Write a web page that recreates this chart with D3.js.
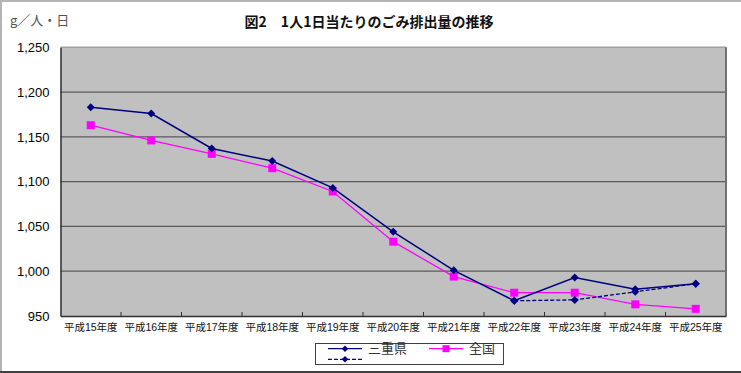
<!DOCTYPE html>
<html>
<head>
<meta charset="utf-8">
<script src="https://cdn.jsdelivr.net/npm/d3@7"></script>
<style>
  body { margin: 0; background: #fff; }
  svg text { font-family: "Liberation Sans", "Noto Sans CJK JP", sans-serif; }
  .jp { font-family: "Noto Sans CJK JP", sans-serif; }
</style>
</head>
<body>
<div id="chart"></div>
<script>
// data
var years = ["平成15年度", "平成16年度", "平成17年度", "平成18年度", "平成19年度", "平成20年度",
             "平成21年度", "平成22年度", "平成23年度", "平成24年度", "平成25年度"];
var mie = [1183, 1176, 1137, 1123, 1093, 1044, 1001, 967, 993, 980, 986];
var mieDashed = [null, null, null, null, null, null, null, 967, 968, 977, 986];
var zenkoku = [1163, 1146, 1131, 1115, 1089, 1033, 994, 976, 976, 963, 958];
var yTicks = [950, 1000, 1050, 1100, 1150, 1200, 1250];

var width = 741, height = 373;
var plot = { left: 60.5, right: 726, top: 47.3, bottom: 316 };

var svg = d3.select("#chart")
    .append("svg")
    .attr("width", width)
    .attr("height", height);

// outer frame of the picture
svg.append("rect").attr("x", 0).attr("y", 0).attr("width", width).attr("height", 2).attr("fill", "#b4b4b4");
svg.append("rect").attr("x", 0).attr("y", 0).attr("width", 2).attr("height", height).attr("fill", "#b4b4b4");
svg.append("rect").attr("x", 0).attr("y", 371).attr("width", width).attr("height", 2).attr("fill", "#404040");

var x = d3.scaleBand().domain(years).range([plot.left, plot.right]).padding(0);
var y = d3.scaleLinear().domain([950, 1250]).range([plot.bottom, plot.top]);
var cx = function(d, i) { return x(years[i]) + x.bandwidth() / 2; };

// plot background
svg.append("rect")
    .attr("x", plot.left).attr("y", plot.top)
    .attr("width", plot.right - plot.left).attr("height", plot.bottom - plot.top)
    .attr("fill", "#c0c0c0");

// grid lines
svg.selectAll(".grid")
    .data(yTicks.slice(1, -1))
    .enter()
    .append("line")
    .attr("class", "grid")
    .attr("x1", plot.left).attr("x2", plot.right)
    .attr("y1", function(d) { return y(d); })
    .attr("y2", function(d) { return y(d); })
    .attr("stroke", "#5a5a5a")
    .attr("stroke-width", 1.3);

// frame: top light, right dark
svg.append("line").attr("x1", plot.left).attr("x2", plot.right).attr("y1", plot.top).attr("y2", plot.top)
    .attr("stroke", "#a0a0a0").attr("stroke-width", 1.5);
svg.append("line").attr("x1", plot.right).attr("x2", plot.right).attr("y1", plot.top).attr("y2", plot.bottom)
    .attr("stroke", "#707070").attr("stroke-width", 2);

// y axis
var yAxis = svg.append("g")
    .attr("transform", "translate(" + plot.left + ",0)")
    .call(d3.axisLeft(y).tickValues(yTicks).tickSize(0).tickPadding(11)
        .tickFormat(d3.format(",")));
yAxis.select(".domain").attr("stroke", "#303030").attr("stroke-width", 1.5);
yAxis.selectAll("text").attr("font-size", 13).attr("fill", "#000")
    .attr("font-family", "Liberation Sans, sans-serif");

// x axis
var xAxis = svg.append("g")
    .attr("transform", "translate(0," + plot.bottom + ")")
    .call(d3.axisBottom(x).tickSize(0).tickPadding(8));
xAxis.select(".domain").attr("stroke", "#303030").attr("stroke-width", 1.5);
xAxis.selectAll("text").attr("font-size", 10.5).attr("fill", "#111")
    .attr("font-family", "Noto Sans CJK JP, sans-serif");

// category separators, pointing up into the plot
svg.selectAll(".xtick")
    .data(years.slice(1))
    .enter()
    .append("line")
    .attr("x1", function(d) { return x(d); })
    .attr("x2", function(d) { return x(d); })
    .attr("y1", plot.bottom - 4).attr("y2", plot.bottom)
    .attr("stroke", "#303030");

// square, or a square turned 45 degrees for the diamond
function markerTransform(px, py, square) {
    return "translate(" + px + "," + py + ")" + (square ? "" : " rotate(45)");
}

// lines
function drawSeries(values, color, widthPx, dash, square, size) {
    var line = d3.line()
        .defined(function(d) { return d != null; })
        .x(cx)
        .y(function(d) { return y(d); });
    svg.append("path")
        .datum(values)
        .attr("fill", "none")
        .attr("stroke", color)
        .attr("stroke-width", widthPx)
        .attr("stroke-dasharray", dash)
        .attr("d", line);
    var pts = values.map(function(v, i) { return { v: v, i: i }; })
        .filter(function(p) { return p.v != null; });
    svg.selectAll(null)
        .data(pts)
        .enter()
        .append("path")
        .attr("d", d3.symbol().type(d3.symbolSquare).size(size))
        .attr("transform", function(p) { return markerTransform(cx(p.v, p.i), y(p.v), square); })
        .attr("fill", color);
}

drawSeries(zenkoku, "#ff00ff", 1.3, null, true, 64);
drawSeries(mieDashed, "#000080", 1.3, "4,2", false, 32);
drawSeries(mie, "#000080", 1.5, null, false, 32);

// titles
svg.append("text")
    .attr("class", "jp")
    .attr("x", 369).attr("y", 27)
    .attr("text-anchor", "middle")
    .attr("font-size", 14)
    .attr("font-weight", "bold")
    .attr("fill", "#111")
    .text("図2　1人1日当たりのごみ排出量の推移");

svg.append("text")
    .attr("class", "jp")
    .attr("x", 10).attr("y", 25)
    .attr("font-size", 13)
    .attr("fill", "#555")
    .text("g／人・日");

// legend
var legend = svg.append("g");
legend.append("rect")
    .attr("x", 315.5).attr("y", 343.5).attr("width", 188).attr("height", 21)
    .attr("fill", "#fff").attr("stroke", "#404040");

var legendItems = [
    { label: "三重県", color: "#000080", x: 328, y: 348.7, dash: null, square: false },
    { label: "全国", color: "#ff00ff", x: 429, y: 348.7, dash: null, square: true },
    { label: "", color: "#000080", x: 328, y: 359.3, dash: "4,2", square: false }
];
legendItems.forEach(function(it) {
    legend.append("line")
        .attr("x1", it.x).attr("x2", it.x + 34)
        .attr("y1", it.y).attr("y2", it.y)
        .attr("stroke", it.color).attr("stroke-width", 1.3)
        .attr("stroke-dasharray", it.dash);
    legend.append("path")
        .attr("d", d3.symbol().type(d3.symbolSquare).size(it.square ? 49 : 22))
        .attr("transform", markerTransform(it.x + 17, it.y, it.square))
        .attr("fill", it.color);
    if (it.label) {
        legend.append("text")
            .attr("class", "jp")
            .attr("x", it.x + 40).attr("y", it.y + 4.5)
            .attr("font-size", 13)
            .attr("fill", "#333")
            .text(it.label);
    }
});
</script>
</body>
</html>
